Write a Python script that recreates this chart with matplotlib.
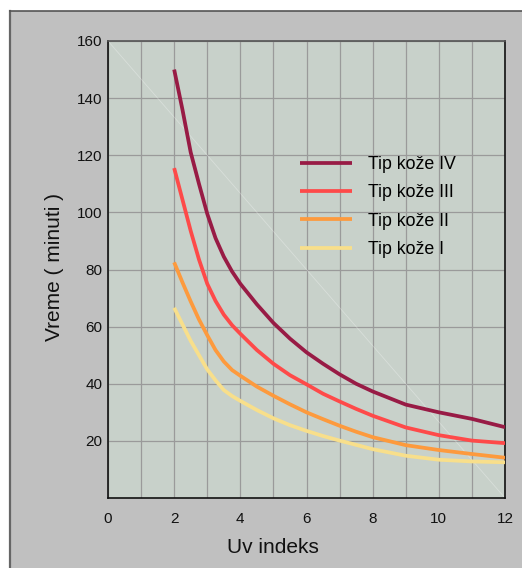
import matplotlib
matplotlib.use("Agg")
import matplotlib.pyplot as plt
from matplotlib.patches import Rectangle
from matplotlib.lines import Line2D

plt.rcParams['font.family'] = ['Liberation Sans', 'DejaVu Sans']

# UV index vs. time in minutes, per skin type
uv = [2, 2.25, 2.5, 2.75, 3, 3.25, 3.5, 3.75, 4, 4.5, 5, 5.5, 6, 6.5, 7, 7.5, 8, 9, 10, 11, 12]
tip_iv = [150, 136, 121, 110, 99.5, 91, 84.5, 79.3, 75, 67.8, 61.3, 55.8, 51, 47, 43.3, 40, 37.3,
          32.7, 30, 27.7, 24.8]
tip_iii = [115.5, 104.5, 93.5, 83.5, 75, 69, 64.2, 60.5, 57.5, 51.8, 47, 43, 39.8, 36.5, 33.8,
           31.2, 28.8, 24.7, 22, 20.1, 19.2]
tip_ii = [82.5, 75.5, 68.8, 62.5, 57, 51.8, 47.8, 44.8, 42.8, 39, 35.8, 32.8, 30, 27.6, 25.3,
          23.2, 21.3, 18.5, 16.8, 15.4, 14.1]
tip_i = [66.6, 60.8, 55, 50, 45, 41.2, 37.8, 35.7, 34, 30.8, 27.9, 25.5, 23.5, 21.7, 20.1,
         18.6, 17.1, 14.8, 13.4, 12.8, 12.5]

labels = ["Tip kože IV", "Tip kože III", "Tip kože II", "Tip kože I"]
colors = ["#981b45", "#fe4a49", "#fd9a3d", "#f8df8b"]
x_ticks = [0, 2, 4, 6, 8, 10, 12]
y_ticks = [20, 40, 60, 80, 100, 120, 140, 160]

fig = plt.figure(figsize=(5.22, 5.68), dpi=100)
fig.patch.set_facecolor("white")

# gray panel with dark left/top edge
fig.patches.append(Rectangle((10 / 522, 0), 1, 1 - 11 / 568, transform=fig.transFigure,
                             facecolor="#c0c0c0", edgecolor="none", zorder=-10))
fig.lines.append(Line2D([10 / 522, 10 / 522], [0, 1 - 11 / 568], transform=fig.transFigure,
                        color="#666666", lw=1.6, zorder=-5))
fig.lines.append(Line2D([10 / 522, 1], [1 - 11 / 568, 1 - 11 / 568], transform=fig.transFigure,
                        color="#555555", lw=1.2, zorder=-5))

ax = fig.add_axes([108 / 522, 1 - 498 / 568, 397 / 522, 457 / 568])
ax.set_facecolor("#c8d1ca")

for series, lab, c in zip([tip_iv, tip_iii, tip_ii, tip_i], labels, colors):
    ax.plot(uv, series, color=c, lw=2.7, label=lab, solid_capstyle="butt",
            solid_joinstyle="round", zorder=3)

# faint white diagonal across the plot area
ax.plot([0, 1], [1, 0], transform=ax.transAxes, color="white", lw=0.6, alpha=0.3, zorder=1)

ax.set_xlim(0, 12)
ax.set_ylim(0, 160)
ax.set_xticks(range(0, 13), minor=True)
ax.set_xticks(x_ticks)
ax.set_yticks(y_ticks)
ax.grid(True, which="both", axis="x", color="#9a9a9a", lw=0.9, zorder=0)
ax.grid(True, which="major", axis="y", color="#9a9a9a", lw=0.9, zorder=0)
ax.set_axisbelow(True)
ax.tick_params(axis="both", which="both", length=0, labelsize=11, labelcolor="#111111")
ax.tick_params(axis="x", pad=10)
ax.tick_params(axis="y", pad=4)

for side in ["left", "bottom", "right"]:
    ax.spines[side].set_color("#111111")
    ax.spines[side].set_linewidth(1.2)
ax.spines["top"].set_color("#555555")
ax.spines["top"].set_linewidth(1.2)

ax.set_xlabel("Uv indeks", fontsize=15, color="#111111")
ax.xaxis.set_label_coords(0.416, -0.088)
ax.set_ylabel("Vreme ( minuti )", fontsize=15, color="#111111")
ax.yaxis.set_label_coords(-0.11, 0.505)

ax.legend(loc="upper left", bbox_to_anchor=(0.4836, 0.748), frameon=False,
          fontsize=12.8, handlelength=2.9, handletextpad=0.95, labelspacing=0.63,
          borderpad=0, borderaxespad=0)

fig.savefig("out.png", dpi=100)
